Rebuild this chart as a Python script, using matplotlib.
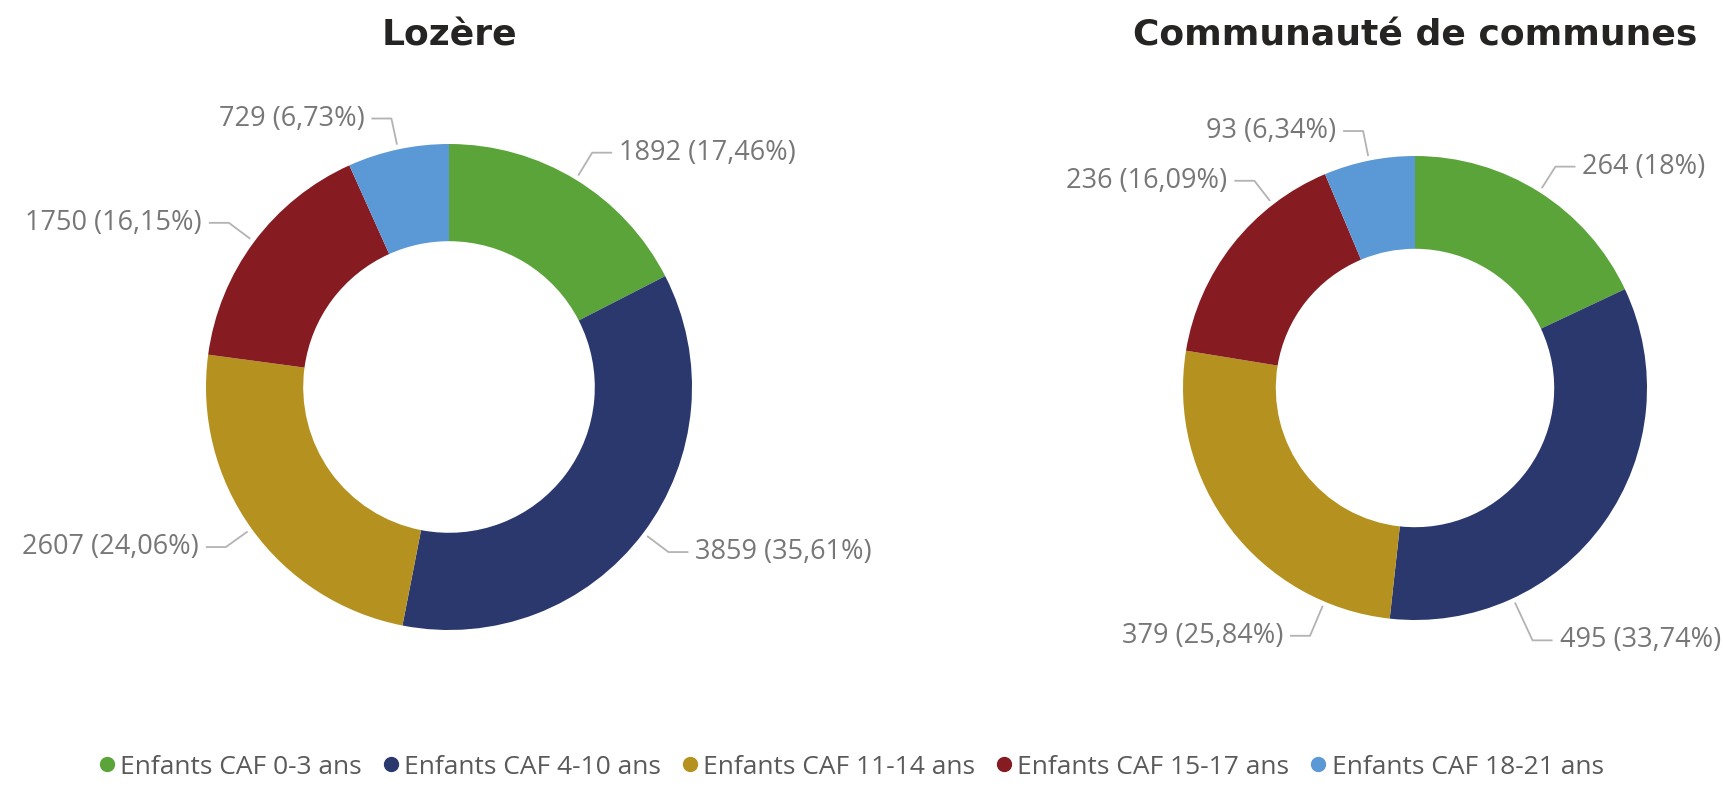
import matplotlib.pyplot as plt
from matplotlib.lines import Line2D
import numpy as np

# data
categories = ['Enfants CAF 0-3 ans', 'Enfants CAF 4-10 ans', 'Enfants CAF 11-14 ans',
              'Enfants CAF 15-17 ans', 'Enfants CAF 18-21 ans']
lozere = [1892, 3859, 2607, 1750, 729]
communes = [264, 495, 379, 236, 93]
titles = ['Lozère', 'Communauté de communes']

colors = ['#5aa43a', '#2b386d', '#b5921f', '#861b22', '#5b98d6']

W, H = 1724, 795
fig = plt.figure(figsize=(W / 100, H / 100), dpi=100)
ax = fig.add_axes([0, 0, 1, 1])


def fmt_pct(v):
    s = f'{v:.2f}'.rstrip('0').rstrip('.')
    return s.replace('.', ',')


def donut(values, title, cx, cy, r, shifts, ext):
    cy = H - cy
    total = sum(values)
    wedges, _ = ax.pie(values, colors=colors, center=(cx, cy), radius=r,
                       startangle=90, counterclock=False,
                       wedgeprops=dict(width=0.4 * r, linewidth=0))
    for w, v, s, e in zip(wedges, values, shifts, ext):
        a = np.deg2rad((w.theta1 + w.theta2) / 2 - s)
        d = np.array([np.cos(a), np.sin(a)])
        p0 = np.array([cx, cy]) + 1.02 * r * d
        p1 = np.array([cx, cy]) + e * r * d
        side = 1 if d[0] >= 0 else -1
        p2 = p1 + [side * 20, 0]
        ax.plot([p0[0], p1[0], p2[0]], [p0[1], p1[1], p2[1]],
                color='#b3b3b3', lw=1.3, solid_capstyle='butt')
        ax.text(p2[0] + side * 7, p2[1], f'{v} ({fmt_pct(100 * v / total)}%)',
                ha='left' if side > 0 else 'right', va='center',
                fontsize=19.5, family='Open Sans', color='#777777')
    ax.text(cx, H - 35, title, ha='center', va='center', fontsize=26,
            fontweight='bold', family='DejaVu Sans', color='#252423')


donut(lozere, titles[0], 449, 387, 243, [0, 0, 0, 0, 0], [1.13] * 5)
donut(communes, titles[1], 1415, 388, 232, [0, 29.5, -29.8, 14, 0],
      [1.13, 1.2, 1.16, 1.13, 1.13])

ax.set_xlim(0, W)
ax.set_ylim(0, H)
ax.axis('off')

handles = [Line2D([], [], marker='o', linestyle='', markersize=10, color=c)
           for c in colors]
fig.legend(handles, categories, loc='center', bbox_to_anchor=(0.493, 1 - 767 / H),
           ncol=5, frameon=False, handletextpad=0.1, columnspacing=0.7,
           handlelength=0.8, prop={'family': 'Open Sans', 'size': 19},
           labelcolor='#5a5a5a')

fig.savefig('out.png', dpi=100, facecolor='white')
